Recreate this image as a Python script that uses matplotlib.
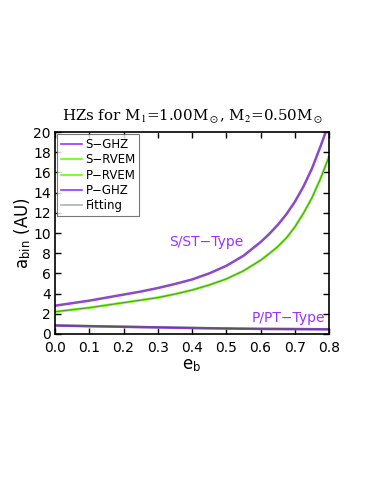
import matplotlib
matplotlib.use("Agg")
import matplotlib.pyplot as plt
import numpy as np

# habitable zone boundaries
eb_s = [0.0, 0.05, 0.1, 0.15, 0.2, 0.25, 0.3, 0.35, 0.4, 0.45, 0.5, 0.55, 0.6,
        0.625, 0.65, 0.675, 0.7, 0.725, 0.75, 0.775, 0.79]
s_ghz = [2.8, 3.05, 3.3, 3.6, 3.9, 4.2, 4.55, 4.95, 5.4, 6.0, 6.75, 7.75, 9.1,
         9.9, 10.8, 11.85, 13.1, 14.6, 16.4, 18.6, 20.0]
eb_r = [0.0, 0.05, 0.1, 0.15, 0.2, 0.25, 0.3, 0.35, 0.4, 0.45, 0.5, 0.55, 0.6,
        0.625, 0.65, 0.675, 0.7, 0.725, 0.75, 0.775, 0.8]
s_rvem = [2.2, 2.4, 2.6, 2.85, 3.1, 3.35, 3.6, 3.95, 4.35, 4.85, 5.45, 6.25, 7.3,
          7.95, 8.65, 9.5, 10.6, 11.95, 13.5, 15.4, 17.6]
eb_p = [0.0, 0.1, 0.2, 0.3, 0.4, 0.5, 0.6, 0.7, 0.8]
p_rvem = [0.85, 0.78, 0.72, 0.66, 0.6, 0.55, 0.51, 0.49, 0.47]
p_ghz = [0.84, 0.77, 0.71, 0.65, 0.59, 0.54, 0.5, 0.48, 0.46]

purple = "#9933ff"
green = "#66ff00"
gray = "#b0b0b0"

plt.rcParams["font.family"] = "DejaVu Sans"
plt.rcParams["mathtext.fontset"] = "stix"

fig = plt.figure(figsize=(3.74, 4.84), dpi=100)
ax = fig.add_axes([0.147, 0.31, 0.733, 0.417])

ax.plot(eb_s, s_ghz, color=purple, lw=1.8, label="S\u2212GHZ")
ax.plot(eb_r, s_rvem, color=green, lw=1.8, label="S\u2212RVEM")
ax.plot(eb_p, p_rvem, color=green, lw=1.8, label="P\u2212RVEM")
ax.plot(eb_p, p_ghz, color=purple, lw=1.8, label="P\u2212GHZ")
ax.plot(eb_s, s_ghz, color="#707070", lw=0.6, label="Fitting")
ax.plot(eb_r, s_rvem, color="#707070", lw=0.6)
ax.plot(eb_p, p_rvem, color="#555555", lw=0.8)

ax.text(0.44, 9.1, "S/ST\u2212Type", color=purple, fontsize=10, ha="center", va="center")
ax.text(0.68, 1.55, "P/PT\u2212Type", color=purple, fontsize=10, ha="center", va="center")

ax.set_xlim(0, 0.8)
ax.set_ylim(0, 20)
ax.set_xticks(np.arange(0, 0.81, 0.1))
ax.set_yticks(np.arange(0, 21, 2))
ax.xaxis.set_major_formatter(matplotlib.ticker.FormatStrFormatter("%.1f"))
ax.tick_params(direction="in", top=True, right=True, labelsize=10, length=4, width=1)
ax.tick_params(axis="x", pad=5)
ax.tick_params(axis="y", pad=3)
for s in ax.spines.values():
    s.set_linewidth(1.2)

ax.set_xlabel("e$_\\mathregular{b}$", fontsize=12, labelpad=1)
ax.set_ylabel("a$_\\mathregular{bin}$ (AU)", fontsize=12, labelpad=0)
ax.set_title("HZs for M$_1$=1.00M$_\\odot$, M$_2$=0.50M$_\\odot$",
             fontsize=10.8, family="serif", math_fontfamily="stix", pad=8)

leg = ax.legend(loc="upper left", fontsize=8.5, frameon=True, fancybox=False,
                borderpad=0.3, labelspacing=0.2, handlelength=1.8, handletextpad=0.3,
                borderaxespad=0.2)
leg.get_frame().set_edgecolor("#555555")
leg.get_frame().set_linewidth(0.8)
for h in leg.get_lines():
    h.set_linewidth(1.2)
leg.get_lines()[-1].set_color(gray)

fig.savefig("out.png", dpi=100)
